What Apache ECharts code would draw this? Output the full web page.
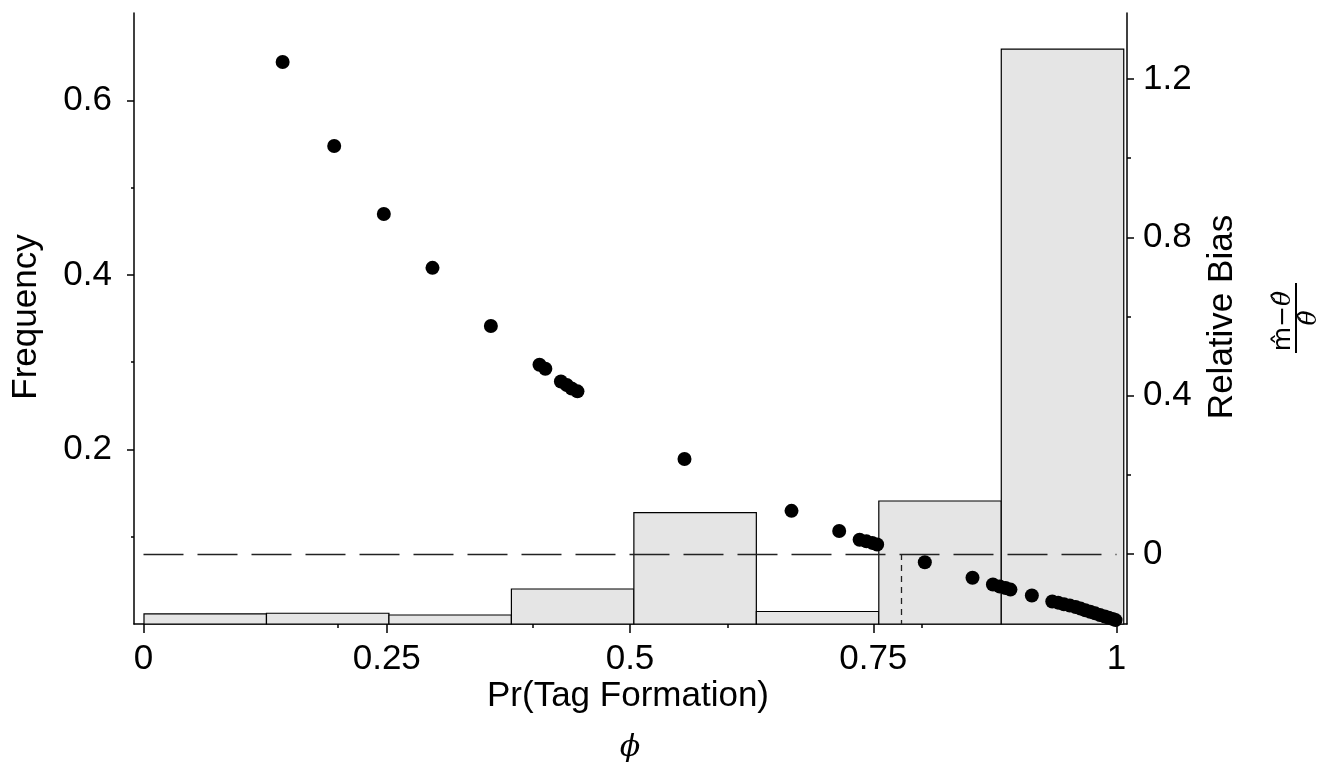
<!DOCTYPE html>
<html>
<head>
<meta charset="utf-8">
<script src="https://cdn.jsdelivr.net/npm/echarts@6/dist/echarts.min.js"></script>
<style>
  html, body { margin: 0; padding: 0; background: #fff; }
  #chart { width: 1335px; height: 770px; }
</style>
</head>
<body>
<div id="chart"></div>
<script>
// histogram of Pr(Tag Formation), left axis
const binEdges = [0, 0.125, 0.25, 0.375, 0.5, 0.625, 0.75, 0.875, 1];
const frequency = [0.0115, 0.0123, 0.0103, 0.0401, 0.1275, 0.0143, 0.1409, 0.6586];

// relative bias points, right axis
const phi = [0.143, 0.196, 0.247, 0.297, 0.357, 0.407, 0.413, 0.429, 0.435, 0.440, 0.446,
  0.556, 0.666, 0.715, 0.736, 0.743, 0.749, 0.754, 0.803, 0.852, 0.873, 0.880, 0.886, 0.891,
  0.913, 0.934, 0.940, 0.946, 0.952, 0.958, 0.963, 0.968, 0.973, 0.978, 0.983, 0.988, 0.992,
  0.996, 0.999];
const relBias = [1.243, 1.031, 0.859, 0.723, 0.576, 0.478, 0.468, 0.436, 0.427, 0.418, 0.411,
  0.240, 0.109, 0.058, 0.036, 0.032, 0.028, 0.024, -0.021, -0.060, -0.077, -0.082, -0.086, -0.090,
  -0.105, -0.120, -0.123, -0.127, -0.130, -0.134, -0.138, -0.142, -0.146, -0.150, -0.154, -0.158,
  -0.161, -0.164, -0.167];

const zeroBias = 0;
const phiCut = 0.779;

// tick labels
const xTicks = [0, 0.25, 0.5, 0.75, 1];
const xMinorTicks = [0.2, 0.4, 0.6, 0.8];
const freqTicks = [0.2, 0.4, 0.6];
const freqMinorTicks = [0.1, 0.3, 0.5];
const biasTicks = [0, 0.4, 0.8, 1.2];
const biasMinorTicks = [0.2, 0.6, 1.0];

const FONT = '"Liberation Sans", Arial, Helvetica, sans-serif';
const X_MIN = -0.00976, X_MAX = 1.01079;
const B_MIN = -0.1769, B_MAX = 1.367;

const chart = echarts.init(document.getElementById('chart'));

const axisLine = { show: true, onZero: false, lineStyle: { color: '#000', width: 1.5 } };
const noLine = { show: false, onZero: false };
const tickStyle = { color: '#000', width: 1.5 };
const labelStyle = { color: '#000', fontSize: 35, fontFamily: FONT };

const option = {
  animation: false,
  grid: { left: 134, right: 208, top: 13, bottom: 146 },
  xAxis: [
    {
      type: 'value', position: 'bottom', min: X_MIN, max: X_MAX,
      axisLine: axisLine,
      axisTick: { customValues: xTicks, length: 9, lineStyle: tickStyle },
      axisLabel: Object.assign({ customValues: xTicks, margin: 18, formatter: v => String(v) }, labelStyle),
      splitLine: { show: false }
    },
    // histogram sits on its own slightly wider scale
    { type: 'value', min: -0.0102, max: 1.00332, show: false, axisLine: noLine },
    {
      type: 'value', position: 'bottom', min: X_MIN, max: X_MAX,
      axisLine: noLine,
      axisTick: { customValues: xMinorTicks, length: 4, lineStyle: tickStyle },
      axisLabel: { show: false },
      splitLine: { show: false }
    }
  ],
  yAxis: [
    {
      type: 'value', position: 'left', min: 0, max: 0.7,
      axisLine: axisLine,
      axisTick: { customValues: freqTicks, length: 7, lineStyle: tickStyle },
      axisLabel: Object.assign({ customValues: freqTicks, margin: 22, formatter: v => String(v) }, labelStyle),
      splitLine: { show: false }
    },
    {
      type: 'value', position: 'right', min: B_MIN, max: B_MAX,
      axisLine: axisLine,
      axisTick: { customValues: biasTicks, length: 7, lineStyle: tickStyle },
      axisLabel: Object.assign({ customValues: biasTicks, margin: 16, formatter: v => String(v) }, labelStyle),
      splitLine: { show: false }
    },
    {
      type: 'value', position: 'left', min: 0, max: 0.7,
      axisLine: noLine,
      axisTick: { customValues: freqMinorTicks, length: 3, lineStyle: tickStyle },
      axisLabel: { show: false },
      splitLine: { show: false }
    },
    {
      type: 'value', position: 'right', min: B_MIN, max: B_MAX,
      axisLine: noLine,
      axisTick: { customValues: biasMinorTicks, length: 4, lineStyle: tickStyle },
      axisLabel: { show: false },
      splitLine: { show: false }
    }
  ],
  graphic: [
    {
      type: 'text', x: 26, y: 317, rotation: Math.PI / 2,
      style: { text: 'Frequency', font: '35px ' + FONT, fill: '#000', align: 'center', verticalAlign: 'middle' }
    },
    {
      type: 'text', x: 1222, y: 317, rotation: Math.PI / 2,
      style: { text: 'Relative Bias', font: '35px ' + FONT, fill: '#000', align: 'center', verticalAlign: 'middle' }
    },
    {
      type: 'text', x: 628, y: 696,
      style: { text: 'Pr(Tag Formation)', font: '35px ' + FONT, fill: '#000', align: 'center', verticalAlign: 'middle' }
    },
    {
      type: 'text', x: 630, y: 748,
      style: { text: '\u03D5', font: 'italic 30px "DejaVu Serif", serif', fill: '#000', align: 'center', verticalAlign: 'middle' }
    },
    {
      type: 'group', x: 1296, y: 318, rotation: Math.PI / 2,
      children: [
        {
          type: 'text', x: -3, y: -13,
          style: {
            text: '{m|m\u0302}{o|\u2212}{t|\u03B8\u0302}',
            align: 'center', verticalAlign: 'middle',
            rich: {
              m: { font: '25px "DejaVu Sans", sans-serif', fill: '#000' },
              o: { font: '25px "DejaVu Sans", sans-serif', fill: '#000' },
              t: { font: 'italic 25px "DejaVu Serif", serif', fill: '#000' }
            }
          }
        },
        { type: 'line', shape: { x1: -35, y1: 0, x2: 35, y2: 0 }, style: { stroke: '#000', lineWidth: 2 } },
        {
          type: 'text', x: 0, y: 13,
          style: { text: '\u03B8\u0302', font: 'italic 25px "DejaVu Serif", serif', fill: '#000', align: 'center', verticalAlign: 'middle' }
        }
      ]
    }
  ],
  series: [
    {
      type: 'custom',
      xAxisIndex: 1,
      yAxisIndex: 0,
      z: 1,
      data: frequency.map((f, i) => [binEdges[i], binEdges[i + 1], f]),
      encode: { x: [0, 1], y: 2 },
      renderItem: (params, api) => {
        const p0 = api.coord([api.value(0), 0]);
        const p1 = api.coord([api.value(1), api.value(2)]);
        return {
          type: 'rect',
          shape: { x: p0[0], y: p1[1], width: p1[0] - p0[0], height: p0[1] - p1[1] },
          style: { fill: '#e5e5e5', stroke: '#000', lineWidth: 1.2 }
        };
      }
    },
    {
      type: 'scatter',
      xAxisIndex: 0,
      yAxisIndex: 1,
      z: 3,
      symbolSize: 14,
      itemStyle: { color: '#000', opacity: 1 },
      data: phi.map((p, i) => [p, relBias[i]]),
      markLine: {
        silent: true,
        symbol: 'none',
        label: { show: false },
        data: [
          [
            { coord: [0, zeroBias], lineStyle: { color: '#222', width: 1.3, type: [40, 14] } },
            { coord: [1, zeroBias] }
          ],
          [
            { coord: [phiCut, zeroBias], lineStyle: { color: '#222', width: 1.3, type: [6, 5] } },
            { coord: [phiCut, B_MIN] }
          ]
        ]
      }
    }
  ]
};

chart.setOption(option);
</script>
</body>
</html>
